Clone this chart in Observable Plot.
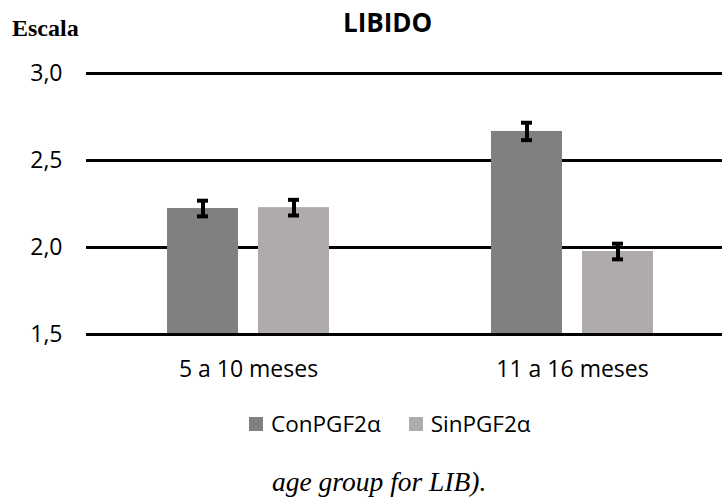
<!DOCTYPE html>
<html>
<head>
<meta charset="utf-8">
<script src="https://cdn.jsdelivr.net/npm/d3@7"></script>
<script src="https://cdn.jsdelivr.net/npm/@observablehq/plot@0.6"></script>
<style>
  html, body { margin: 0; padding: 0; background: #fff; }
  #wrap { position: relative; width: 722px; height: 500px; overflow: hidden; font-family: "Open Sans", "Noto Sans", sans-serif; }
  #chart { position: absolute; left: 0; top: 0; }
  .abs { position: absolute; white-space: nowrap; line-height: 1; }
  #title { left: 343px; top: 9px; font-family: "Open Sans", sans-serif; font-weight: bold; font-size: 26px; color: #000; }
  #ylab { left: 12px; top: 16px; font-family: "Liberation Serif", serif; font-weight: bold; font-size: 24px; color: #000; }
  #legend { left: 249px; top: 413px; font-size: 22.5px; color: #000; display: flex; align-items: center; }
  .sw { display: inline-block; width: 14px; height: 14px; margin-right: 8px; }
  .item { display: flex; align-items: center; margin-right: 28px; }
  #caption { left: 272px; top: 468px; font-family: "Liberation Serif", serif; font-style: italic; font-size: 27.5px; color: #000; }
</style>
</head>
<body>
<div id="wrap">
  <div id="chart"></div>
  <div id="ylab" class="abs">Escala</div>
  <div id="title" class="abs">LIBIDO</div>
  <div id="legend" class="abs"></div>
  <div id="caption" class="abs">age group for LIB).</div>
</div>
<script>
const groups = ["5 a 10 meses", "11 a 16 meses"];
const series = ["ConPGF2α", "SinPGF2α"];
const conValues = [2.224, 2.667];
const sinValues = [2.229, 1.977];
const conErrors = [0.045, 0.05];
const sinErrors = [0.045, 0.045];
const yTicks = [1.5, 2.0, 2.5, 3.0];
const colors = ["#808080", "#AFABAB"];

const data = [];
groups.forEach((g, i) => {
  data.push({group: g, series: series[0], value: conValues[i], err: conErrors[i]});
  data.push({group: g, series: series[1], value: sinValues[i], err: sinErrors[i]});
});

const fmt = d => d3.format(".1f")(d).replace(".", ",");

const chart = Plot.plot({
  width: 722,
  height: 390,
  marginTop: 73,
  marginBottom: 56,
  marginLeft: 86,
  marginRight: -12,
  style: { fontFamily: "'Open Sans', 'Noto Sans', sans-serif", fontSize: "23px", color: "#000", background: "transparent", overflow: "visible" },
  fx: { domain: groups, padding: 0, label: null, axis: "bottom", tickSize: 0, tickPadding: 26 },
  x: { domain: series, paddingInner: 0.217, paddingOuter: 0.87, axis: null },
  y: { domain: [yTicks[0], yTicks[yTicks.length - 1]], ticks: yTicks, tickFormat: fmt, tickSize: 0, tickPadding: 24, label: null },
  color: { domain: series, range: colors },
  marks: [
    Plot.ruleY(yTicks.slice(1), { stroke: "#000", strokeWidth: 3 }),
    Plot.barY(data, { fx: "group", x: "series", y1: yTicks[0], y2: "value", fill: "series" }),
    Plot.ruleY([yTicks[0]], { stroke: "#000", strokeWidth: 3 }),
    Plot.ruleX(data, { fx: "group", x: "series", y1: d => d.value - d.err, y2: d => d.value + d.err, stroke: "#000", strokeWidth: 4 }),
    Plot.tickY(data, { fx: "group", x: "series", y: d => d.value - d.err, stroke: "#000", strokeWidth: 4, insetLeft: 30, insetRight: 30 }),
    Plot.tickY(data, { fx: "group", x: "series", y: d => d.value + d.err, stroke: "#000", strokeWidth: 4, insetLeft: 30, insetRight: 30 })
  ]
});
document.getElementById("chart").appendChild(chart);

const legend = document.getElementById("legend");
series.forEach((s, i) => {
  const item = document.createElement("div");
  item.className = "item";
  const sw = document.createElement("span");
  sw.className = "sw";
  sw.style.background = colors[i];
  const t = document.createElement("span");
  t.textContent = s;
  item.appendChild(sw);
  item.appendChild(t);
  legend.appendChild(item);
});
</script>
</body>
</html>
